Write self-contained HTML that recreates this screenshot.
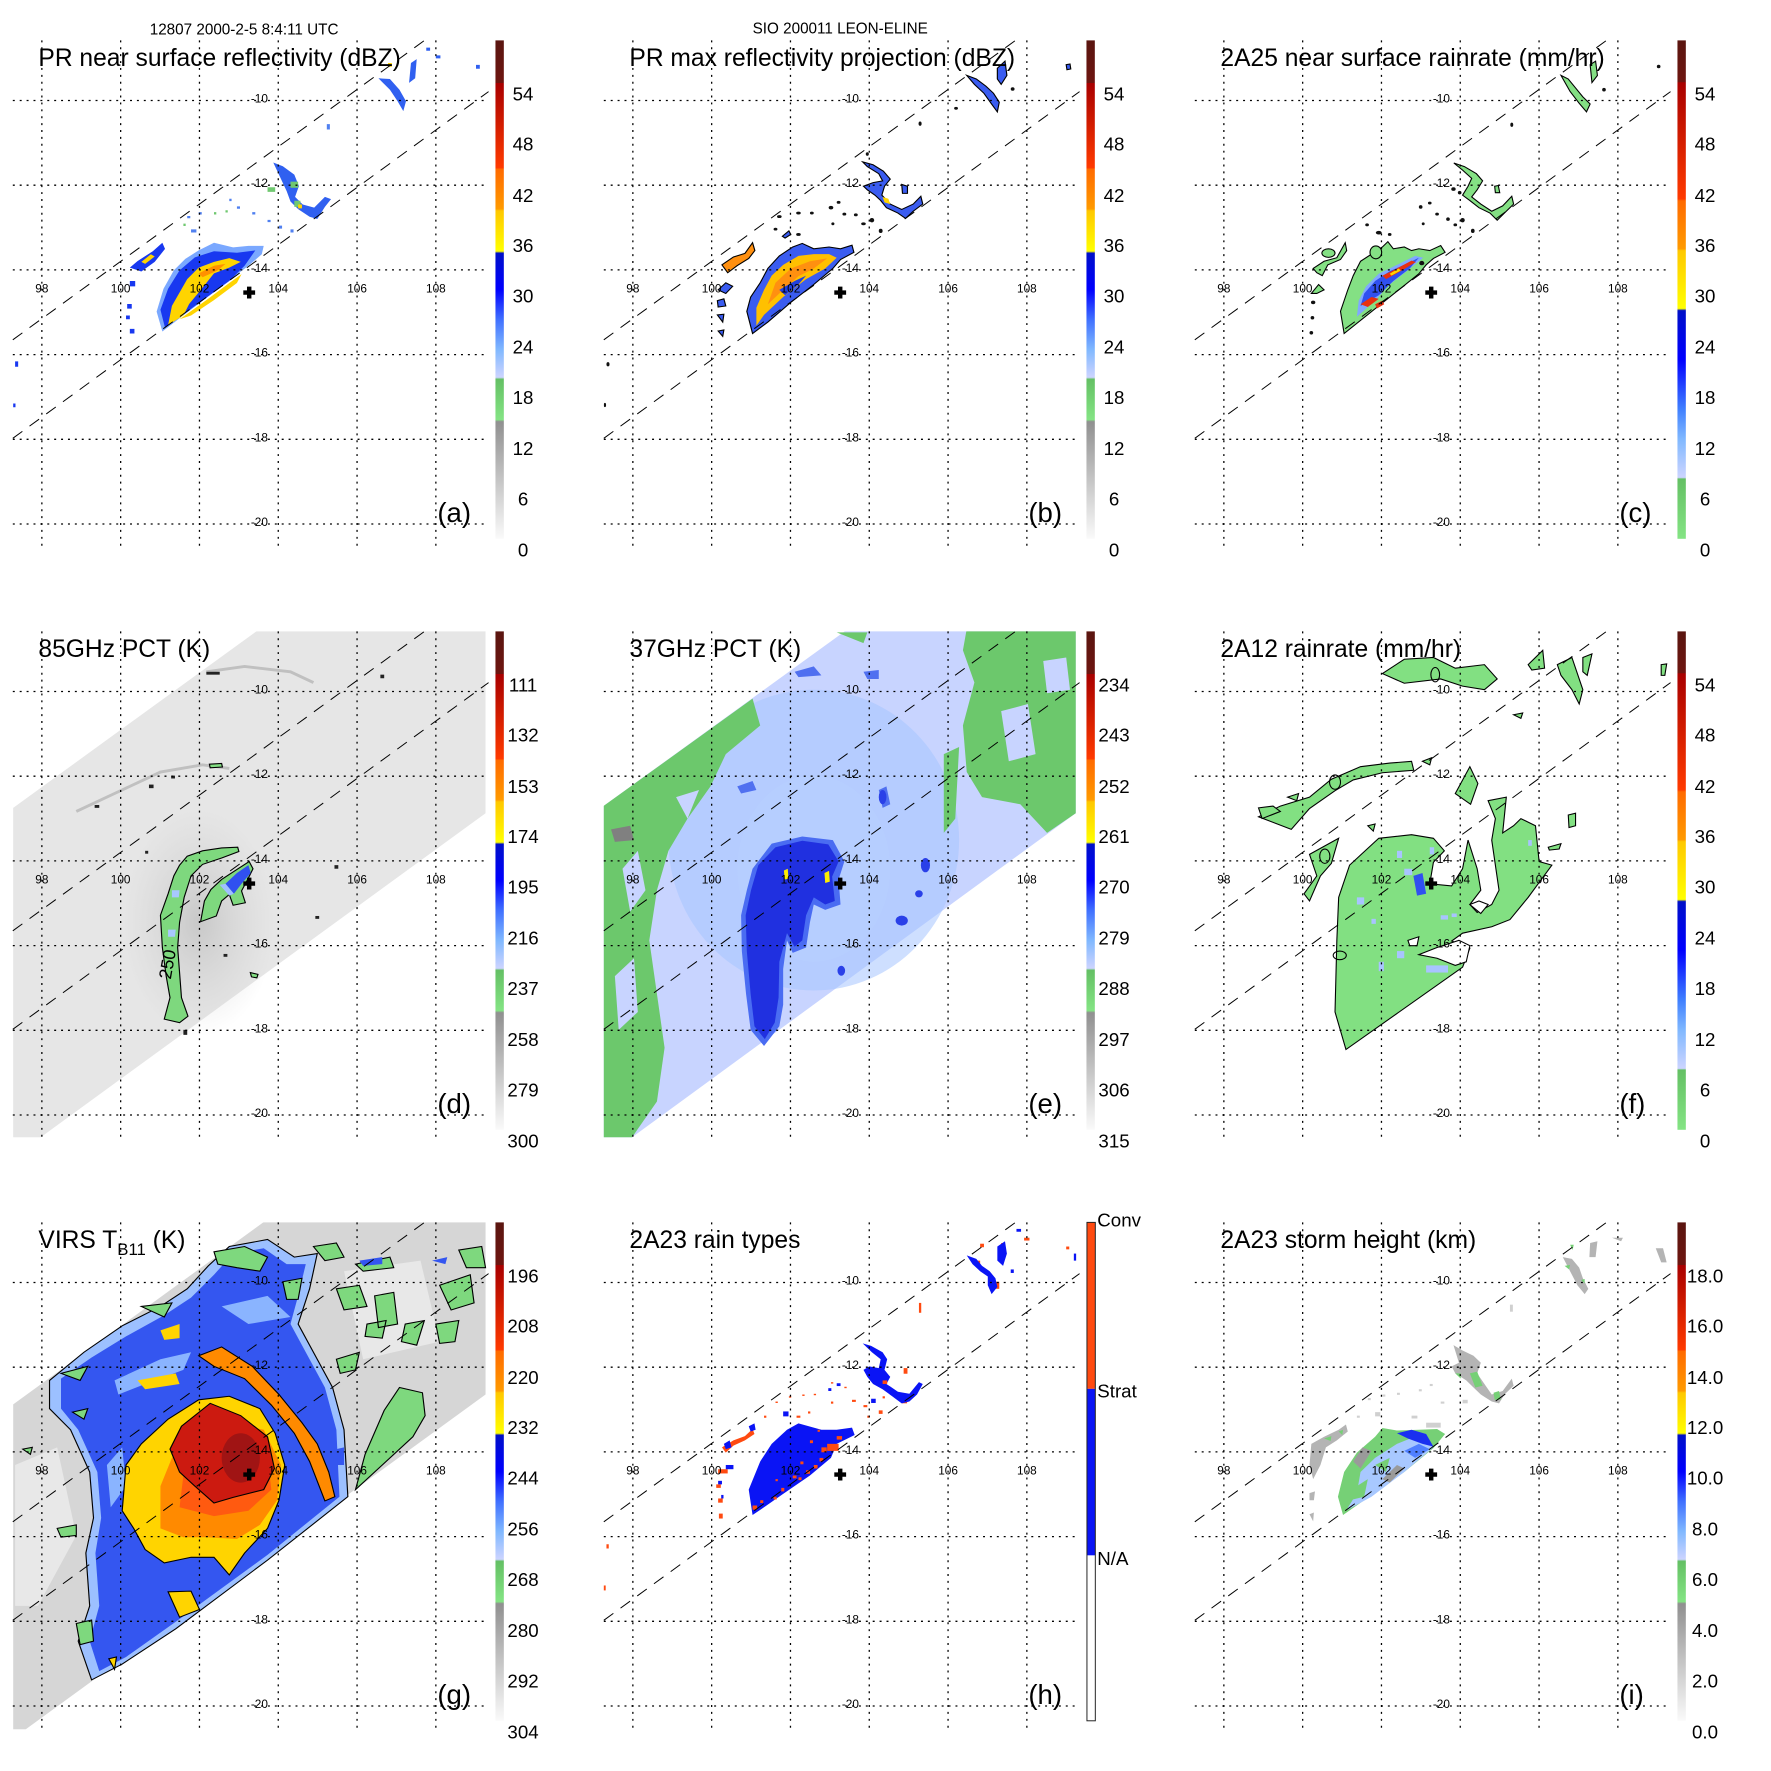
<!DOCTYPE html>
<html><head><meta charset="utf-8"><style>
html,body{margin:0;padding:0;background:#fff}
svg{display:block;font-family:"Liberation Sans",Arial,sans-serif}
.t{font-size:25px}
.cb{font-size:19px;text-anchor:middle}
.lo{font-size:12px;text-anchor:middle}
.la{font-size:12px;text-anchor:end}
.pl{font-size:28px}
.hd{font-size:15.5px}
.ol{stroke:#000;stroke-width:3}
</style></head><body>
<svg width="1771" height="1771" viewBox="0 0 1771 1771" xmlns="http://www.w3.org/2000/svg">
<defs>
<clipPath id="cp"><rect x="13" y="41" width="483" height="516"/></clipPath>
<linearGradient id="gA" x1="0" y1="0" x2="0" y2="1">
<stop offset="0" stop-color="#5a1510"/><stop offset="0.085" stop-color="#6e1510"/>
<stop offset="0.086" stop-color="#a80000"/><stop offset="0.256" stop-color="#ff3a00"/>
<stop offset="0.258" stop-color="#ff6a00"/><stop offset="0.338" stop-color="#ff9a00"/>
<stop offset="0.342" stop-color="#ffc800"/><stop offset="0.423" stop-color="#ffff00"/>
<stop offset="0.427" stop-color="#0010c8"/><stop offset="0.5" stop-color="#0000ff"/>
<stop offset="0.56" stop-color="#4070ff"/><stop offset="0.62" stop-color="#80b8ff"/><stop offset="0.676" stop-color="#ccd4ff"/>
<stop offset="0.68" stop-color="#64c064"/><stop offset="0.761" stop-color="#84e484"/>
<stop offset="0.765" stop-color="#909090"/><stop offset="1" stop-color="#fafafa"/>
</linearGradient>
<linearGradient id="gC" x1="0" y1="0" x2="0" y2="1">
<stop offset="0" stop-color="#5a1510"/><stop offset="0.083" stop-color="#6e1510"/>
<stop offset="0.085" stop-color="#a80000"/><stop offset="0.318" stop-color="#ff3a00"/>
<stop offset="0.322" stop-color="#ff6a00"/><stop offset="0.418" stop-color="#ff9a00"/>
<stop offset="0.422" stop-color="#ffc800"/><stop offset="0.538" stop-color="#ffff00"/>
<stop offset="0.542" stop-color="#0010c8"/><stop offset="0.64" stop-color="#0000ff"/>
<stop offset="0.74" stop-color="#4080ff"/><stop offset="0.8" stop-color="#80b8ff"/><stop offset="0.877" stop-color="#ccd4ff"/>
<stop offset="0.88" stop-color="#64c064"/><stop offset="1" stop-color="#84e484"/>
</linearGradient>
<radialGradient id="rg" cx="0.5" cy="0.5" r="0.5">
<stop offset="0" stop-color="#b4b4b4" stop-opacity="0.6"/><stop offset="1" stop-color="#c8c8c8" stop-opacity="0"/>
</radialGradient>
<g id="grid" fill="none">
<g stroke="#000" stroke-width="1.3" stroke-dasharray="2 5">
<path d="M42.5,41V557M122.5,41V557M202.5,41V557M282.5,41V557M362.5,41V557M442.5,41V557"/>
<path d="M13,102H496M13,188H496M13,274H496M13,360H496M13,446H496M13,532H496"/>
</g>
<path d="M13,345L431,41M13,445L496,93" stroke="#000" stroke-width="1" stroke-dasharray="12 9"/>
<path d="M247,297h12M253,291v12" stroke="#000" stroke-width="4.5"/>
</g>
</defs>
<g transform="scale(0.985)">

<text class="hd" x="152" y="35">12807 2000-2-5 8:4:11 UTC</text>
<text class="hd" x="853" y="34" text-anchor="middle">SIO 200011 LEON-ELINE</text>

<!-- ================= (a) ================= -->
<g transform="translate(0,0)">
<g clip-path="url(#cp)"><g transform="matrix(.3883 0 0 .3884 -0.2 -2.1)">
<path fill="#7aa8ff" d="M425,872 L410,820 L428,760 L455,712 L485,682 L520,660 L560,640 L610,652 L650,648 L690,648 L685,670 L650,700 Z"/>
<path fill="#1838f0" d="M432,862 L420,815 L440,760 L470,712 L510,678 L560,662 L620,666 L668,660 L640,700 L600,740 Z"/>
<path fill="#ffd400" d="M440,855 L450,805 L470,770 L490,735 L520,705 L560,690 L600,680 L630,690 L600,705 L560,720 L540,745 L520,770 L495,800 L480,830 Z"/>
<path fill="#ffd400" d="M470,840 L540,790 L600,745 L632,722 L620,745 L560,790 L500,830 Z"/>
<path fill="#ff9000" d="M520,720 L560,700 L590,695 L570,712 L530,730 Z"/>
<path fill="#1838f0" d="M340,705 L360,688 L400,662 L425,640 L432,656 L405,690 L370,715 Z"/>
<path fill="#ffd400" d="M370,690 L395,670 L405,676 L380,695 Z"/>
<path fill="#1838f0" d="M340,740h14v14h-14zM333,800h12v12h-12zM330,830h10v10h-10zM340,865h12v12h-12zM40,950h8v14h-8zM35,1060h6v10h-6z"/>
<path fill="#3060f0" d="M990,210 L1020,212 L1045,240 L1062,270 L1055,296 L1040,270 L1020,240 Z M1075,170 L1090,160 L1086,210 L1070,222 Z M1115,130h10v8h-10z M1140,150h12v8h-12z M1245,175h10v10h-10z"/>
<path fill="#3060f0" d="M715,430 L740,440 L770,462 L782,492 L772,520 L792,540 L822,548 L850,520 L866,526 L850,546 L830,578 L810,572 L780,552 L760,532 L750,505 Z"/>
<path fill="#70c870" d="M700,495h20v12h-20zM760,480h20v16h-20zM770,530h16v16h-16z"/>
<path fill="#ffd400" d="M780,540h10v10h-10zM1015,170h10v10h-10z"/>
<path fill="#5080f0" d="M620,545h8v6h-8zM660,560h8v6h-8zM700,580h8v6h-8zM730,595h8v8h-8zM760,605h8v8h-8zM600,525h6v6h-6zM490,570h8v6h-8zM520,560h8v6h-8zM500,605h14v8h-14zM855,330h8v14h-8z"/>
<path fill="#70c870" d="M560,560h6v6h-6zM590,555h6v6h-6zM480,590h6v6h-6z"/>
</g></g>
<use href="#grid"/>
<text class="t" x="39" y="67">PR near surface reflectivity (dBZ)</text>
<rect x="503" y="41" width="8.5" height="506" fill="url(#gA)"/>
<g class="cb"><text x="531" y="102">54</text><text x="531" y="153">48</text><text x="531" y="205">42</text><text x="531" y="256">36</text><text x="531" y="307">30</text><text x="531" y="359">24</text><text x="531" y="410">18</text><text x="531" y="462">12</text><text x="531" y="513">6</text><text x="531" y="565">0</text></g>
<g class="lo"><text x="42.5" y="297">98</text><text x="122.5" y="297">100</text><text x="202.5" y="297">102</text><text x="282.5" y="297">104</text><text x="362.5" y="297">106</text><text x="442.5" y="297">108</text></g>
<g class="la"><text x="272" y="104">-10</text><text x="272" y="190">-12</text><text x="272" y="276">-14</text><text x="272" y="362">-16</text><text x="272" y="448">-18</text><text x="272" y="534">-20</text></g>
<text class="pl" x="444" y="530">(a)</text>
</g>

<!-- ================= (b) ================= -->
<g transform="translate(600,0)">
<g clip-path="url(#cp)"><g transform="matrix(.3883 0 0 .3629 8.7 18.5)">
<path fill="#3a5cf0" class="ol" d="M400,882 L385,820 L395,780 L420,740 L440,700 L470,665 L505,640 L530,630 L560,645 L600,640 L630,645 L660,635 L665,655 L630,675 L610,700 L560,745 L500,795 L440,850 Z"/>
<path fill="#ffc000" d="M410,860 L410,810 L430,760 L450,720 L480,690 L520,665 L560,660 L600,660 L620,670 L590,700 L540,730 L480,780 L430,830 Z"/>
<path fill="#ff9010" d="M440,800 L460,740 L500,700 L550,680 L595,672 L560,700 L520,722 L480,760 Z"/>
<path fill="#2040e0" d="M470,760 L510,735 L540,720 L520,745 L485,775 Z"/>
<path fill="#ff9010" class="ol" d="M320,690 L350,668 L380,658 L400,628 L406,650 L390,672 L360,692 L335,712 Z"/>
<path fill="#3a5cf0" class="ol" d="M310,760 L330,740 L348,750 L330,770 Z M308,790 L325,785 L330,805 L310,808 Z M308,830 L325,828 L322,850 Z M310,875 L325,872 L322,890 Z"/>
<path fill="#3a5cf0" class="ol" d="M688,402 L715,410 L742,428 L760,450 L745,470 L738,495 L760,520 L790,535 L820,520 L840,498 L845,520 L820,540 L800,560 L780,545 L750,530 L735,510 L720,495 L700,480 L690,470 L715,460 L740,455 L730,435 L700,415 Z"/>
<path fill="#ffd400" d="M740,500 L755,505 L760,520 L745,515 Z"/>
<path fill="#3a5cf0" class="ol" d="M960,160 L985,170 L1010,190 L1030,210 L1045,235 L1040,262 L1025,240 L1005,210 L980,185 Z M1040,140 L1060,120 L1065,160 L1050,185 L1040,170 Z M790,465 L805,470 L805,490 L792,490 Z M1220,130 L1230,128 L1232,142 L1222,144 Z"/>
<g fill="#111"><ellipse cx="470" cy="555" rx="6" ry="4"/><ellipse cx="520" cy="545" rx="6" ry="4"/><ellipse cx="555" cy="545" rx="5" ry="4"/><ellipse cx="605" cy="530" rx="6" ry="5"/><ellipse cx="640" cy="548" rx="5" ry="4"/><ellipse cx="670" cy="550" rx="5" ry="4"/><ellipse cx="690" cy="575" rx="6" ry="4"/><ellipse cx="712" cy="565" rx="6" ry="6"/><ellipse cx="735" cy="595" rx="5" ry="6"/><ellipse cx="610" cy="575" rx="4" ry="4"/><ellipse cx="520" cy="605" rx="6" ry="4"/><ellipse cx="460" cy="590" rx="5" ry="4"/><ellipse cx="932" cy="252" rx="5" ry="4"/><ellipse cx="838" cy="295" rx="4" ry="6"/><ellipse cx="700" cy="380" rx="4" ry="5"/><ellipse cx="625" cy="515" rx="5" ry="4"/><ellipse cx="1080" cy="198" rx="5" ry="5"/><ellipse cx="22" cy="968" rx="4" ry="6"/><ellipse cx="14" cy="1082" rx="3" ry="6"/></g>
<path fill="#3a5cf0" class="ol" d="M478,610 L495,595 L500,605 L485,615 Z"/>
</g></g>
<use href="#grid"/>
<text class="t" x="39" y="67">PR max reflectivity projection (dBZ)</text>
<rect x="503" y="41" width="8.5" height="506" fill="url(#gA)"/>
<g class="cb"><text x="531" y="102">54</text><text x="531" y="153">48</text><text x="531" y="205">42</text><text x="531" y="256">36</text><text x="531" y="307">30</text><text x="531" y="359">24</text><text x="531" y="410">18</text><text x="531" y="462">12</text><text x="531" y="513">6</text><text x="531" y="565">0</text></g>
<g class="lo"><text x="42.5" y="297">98</text><text x="122.5" y="297">100</text><text x="202.5" y="297">102</text><text x="282.5" y="297">104</text><text x="362.5" y="297">106</text><text x="442.5" y="297">108</text></g>
<g class="la"><text x="272" y="104">-10</text><text x="272" y="190">-12</text><text x="272" y="276">-14</text><text x="272" y="362">-16</text><text x="272" y="448">-18</text><text x="272" y="534">-20</text></g>
<text class="pl" x="444" y="530">(b)</text>
</g>

<!-- ================= (c) ================= -->
<g transform="translate(1200,0)">
<g clip-path="url(#cp)"><g transform="matrix(.370 0 0 .3629 18.45 18.5)">
<path fill="#84e084" class="ol" d="M395,882 L385,820 L395,790 L405,760 L420,720 L440,680 L470,660 L500,640 L515,625 L530,645 L560,640 L580,650 L600,645 L630,650 L660,636 L672,655 L640,672 L620,690 L600,715 Z"/>
<path fill="#80a8ff" d="M430,835 L435,790 L455,750 L490,715 L540,690 L590,665 L612,670 L570,705 L520,745 L480,790 Z"/>
<path fill="#3050f0" d="M440,805 L450,770 L480,735 L520,708 L570,685 L600,670 L575,700 L530,735 L490,775 Z"/>
<path fill="#e83010" d="M500,720 L540,700 L580,678 L592,682 L550,708 L510,730 Z M440,800 L470,780 L490,785 L460,808 Z M480,800 L500,790 L505,800 L485,812 Z"/>
<path fill="#ffd400" d="M520,715 L545,700 L550,706 L525,720 Z"/>
<ellipse cx="482" cy="655" rx="16" ry="18" fill="#84e084" class="ol"/>
<ellipse cx="352" cy="657" rx="18" ry="12" fill="#84e084" class="ol"/>
<path fill="#84e084" class="ol" d="M310,700 L340,680 L375,670 L398,628 L402,650 L385,675 L350,690 L335,720 L320,712 Z M305,770 L325,745 L340,760 L320,770 Z"/>
<path fill="#84e084" class="ol" d="M696,405 L725,415 L758,435 L775,455 L760,480 L745,500 L770,520 L800,540 L830,525 L855,498 L860,520 L835,545 L815,565 L795,545 L765,530 L740,510 L720,495 L735,470 L745,448 L720,425 Z M808,470 L818,468 L822,488 L810,488 Z"/>
<path fill="#84e084" class="ol" d="M990,160 L1010,170 L1030,195 L1050,220 L1070,240 L1060,262 L1040,238 L1015,205 Z M1070,130 L1085,120 L1090,160 L1075,180 Z"/>
<g fill="#111"><ellipse cx="310" cy="795" rx="6" ry="5"/><ellipse cx="308" cy="838" rx="5" ry="5"/><ellipse cx="305" cy="880" rx="5" ry="5"/><ellipse cx="490" cy="600" rx="8" ry="5"/><ellipse cx="520" cy="605" rx="5" ry="4"/><ellipse cx="605" cy="528" rx="5" ry="5"/><ellipse cx="630" cy="517" rx="5" ry="4"/><ellipse cx="650" cy="548" rx="5" ry="4"/><ellipse cx="680" cy="562" rx="5" ry="5"/><ellipse cx="720" cy="565" rx="6" ry="6"/><ellipse cx="748" cy="595" rx="5" ry="6"/><ellipse cx="700" cy="578" rx="5" ry="4"/><ellipse cx="612" cy="575" rx="4" ry="4"/><ellipse cx="695" cy="478" rx="6" ry="5"/><ellipse cx="712" cy="488" rx="5" ry="5"/><ellipse cx="855" cy="298" rx="4" ry="6"/><ellipse cx="1108" cy="200" rx="5" ry="5"/><ellipse cx="608" cy="685" rx="7" ry="6"/><ellipse cx="458" cy="578" rx="5" ry="4"/><ellipse cx="1258" cy="135" rx="5" ry="5"/></g>
</g></g>
<use href="#grid"/>
<text class="t" x="39" y="67">2A25 near surface rainrate (mm/hr)</text>
<rect x="503" y="41" width="8.5" height="506" fill="url(#gC)"/>
<g class="cb"><text x="531" y="102">54</text><text x="531" y="153">48</text><text x="531" y="205">42</text><text x="531" y="256">36</text><text x="531" y="307">30</text><text x="531" y="359">24</text><text x="531" y="410">18</text><text x="531" y="462">12</text><text x="531" y="513">6</text><text x="531" y="565">0</text></g>
<g class="lo"><text x="42.5" y="297">98</text><text x="122.5" y="297">100</text><text x="202.5" y="297">102</text><text x="282.5" y="297">104</text><text x="362.5" y="297">106</text><text x="442.5" y="297">108</text></g>
<g class="la"><text x="272" y="104">-10</text><text x="272" y="190">-12</text><text x="272" y="276">-14</text><text x="272" y="362">-16</text><text x="272" y="448">-18</text><text x="272" y="534">-20</text></g>
<text class="pl" x="444" y="530">(c)</text>
</g>

<!-- ================= (d) ================= -->
<g transform="translate(0,600)">
<g clip-path="url(#cp)"><g transform="matrix(.3883 0 0 .3635 -0.2 27.5)">
<path fill="#e6e6e6" d="M35,530 L680,30 L1270,30 L1270,545 L107,1450 L35,1450 Z"/>
<ellipse cx="520" cy="850" rx="200" ry="320" fill="url(#rg)"/>
<path fill="none" stroke="#c0c0c0" stroke-width="8" d="M200,540 L300,490 L420,430 L530,410 L600,420 M540,150 L640,135 L760,150 L820,180"/>
<g fill="#222"><rect x="540" y="150" width="35" height="8"/><rect x="248" y="522" width="12" height="8"/><rect x="390" y="465" width="12" height="10"/><rect x="448" y="440" width="10" height="8"/><rect x="380" y="650" width="8" height="8"/><rect x="875" y="690" width="10" height="10"/><rect x="825" y="832" width="10" height="8"/><rect x="585" y="938" width="10" height="8"/><rect x="995" y="158" width="10" height="10"/><rect x="480" y="1150" width="10" height="14"/></g>
<path fill="#84e084" class="ol" d="M548,408 L580,406 L582,416 L550,418 Z M655,990 L675,995 L672,1005 L658,1002 Z"/>
<path fill="#7ed87e" class="ol" d="M430,1120 L445,1060 L435,1000 L425,920 L420,830 L440,770 L455,720 L470,690 L490,665 L530,650 L580,642 L622,640 L625,652 L580,670 L530,688 L500,720 L482,780 L470,850 L465,920 L470,990 L475,1060 L492,1112 L470,1130 Z"/>
<path fill="#a8c8ff" d="M450,760 L470,760 L468,780 L450,780 Z M440,870 L460,870 L458,890 L440,890 Z"/>
<path fill="#7ed87e" class="ol" d="M525,848 L535,790 L552,758 L580,730 L620,702 L652,680 L662,700 L648,730 L632,762 L642,795 L610,802 L600,772 L580,790 L566,832 Z"/>
<path fill="#3050f0" d="M590,742 L620,712 L650,690 L656,712 L632,742 L612,770 Z"/>
<path fill="#a0c0ff" d="M575,745 L590,742 L612,770 L600,775 Z"/>
</g></g>
<use href="#grid"/>
<text x="176" y="380" font-size="18" transform="rotate(-80 176 380)" text-anchor="middle">250</text>
<text class="t" x="39" y="67">85GHz PCT (K)</text>
<rect x="503" y="41" width="8.5" height="506" fill="url(#gA)"/>
<g class="cb"><text x="531" y="102">111</text><text x="531" y="153">132</text><text x="531" y="205">153</text><text x="531" y="256">174</text><text x="531" y="307">195</text><text x="531" y="359">216</text><text x="531" y="410">237</text><text x="531" y="462">258</text><text x="531" y="513">279</text><text x="531" y="565">300</text></g>
<g class="lo"><text x="42.5" y="297">98</text><text x="122.5" y="297">100</text><text x="202.5" y="297">102</text><text x="282.5" y="297">104</text><text x="362.5" y="297">106</text><text x="442.5" y="297">108</text></g>
<g class="la"><text x="272" y="104">-10</text><text x="272" y="190">-12</text><text x="272" y="276">-14</text><text x="272" y="362">-16</text><text x="272" y="448">-18</text><text x="272" y="534">-20</text></g>
<text class="pl" x="444" y="530">(d)</text>
</g>

<!-- ================= (e) ================= -->
<g transform="translate(600,600)">
<g clip-path="url(#cp)"><g transform="matrix(.3883 0 0 .3635 8.7 27.5)">
<path fill="#c8d4ff" d="M10,525 L650,30 L1245,30 L1245,545 L85,1450 L10,1450 Z"/>
<ellipse cx="560" cy="620" rx="380" ry="420" fill="#a6c4ff" opacity="0.55"/>
<ellipse cx="560" cy="700" rx="200" ry="260" fill="#b8d0ff" opacity="0.5"/>
<path fill="#6cc86c" d="M10,525 L400,225 L420,300 L330,380 L290,470 L230,560 L180,650 L150,760 L130,900 L150,1050 L170,1200 L150,1350 L85,1450 L10,1450 Z"/>
<path fill="#c8d4ff" d="M60,700 L100,650 L120,760 L80,820 Z M40,1000 L90,950 L100,1100 L50,1150 Z M200,500 L260,480 L230,560 Z"/>
<path fill="#6cc86c" d="M960,30 L1245,30 L1245,545 L1170,600 L1100,520 L1000,500 L960,430 L950,300 L980,180 L950,90 Z"/>
<path fill="#c8d4ff" d="M1050,260 L1120,240 L1140,380 L1070,400 Z M1160,120 L1220,110 L1230,200 L1170,210 Z"/>
<path fill="#6cc86c" d="M900,380 L940,360 L930,560 L900,600 Z M620,40 L700,40 L690,70 Z"/>
<path fill="#808080" d="M30,590 L80,580 L90,620 L40,625 Z"/>
<path fill="#5070f0" d="M510,150 L560,135 L580,160 L520,165 Z M690,150 L730,145 L730,170 L700,170 Z M730,480 L750,470 L760,520 L740,530 Z M360,470 L400,455 L410,480 L370,490 Z"/>
<path fill="#4a6cf2" d="M400,700 L450,630 L530,610 L610,620 L640,680 L625,730 L630,800 L590,815 L560,800 L550,850 L540,920 L505,935 L490,900 L480,980 L480,1080 L470,1140 L430,1195 L395,1150 L383,1050 L372,930 L370,830 L385,760 Z"/>
<path fill="#2030e0" d="M415,690 L460,640 L530,622 L598,632 L625,680 L608,722 L615,790 L590,800 L560,780 L540,830 L530,900 L510,918 L490,880 L470,960 L468,1060 L458,1130 L432,1176 L405,1140 L395,1050 L385,930 L382,830 L396,760 Z"/>
<path fill="#ffee00" d="M482,705 L492,700 L494,728 L484,730 Z M588,712 L600,706 L602,736 L590,740 Z"/>
<g fill="#2a40e8"><ellipse cx="852" cy="690" rx="12" ry="20"/><ellipse cx="790" cy="845" rx="16" ry="14"/><ellipse cx="632" cy="985" rx="10" ry="14"/><ellipse cx="835" cy="770" rx="10" ry="10"/><ellipse cx="740" cy="500" rx="10" ry="20"/></g>
</g></g>
<use href="#grid"/>
<text class="t" x="39" y="67">37GHz PCT (K)</text>
<rect x="503" y="41" width="8.5" height="506" fill="url(#gA)"/>
<g class="cb"><text x="531" y="102">234</text><text x="531" y="153">243</text><text x="531" y="205">252</text><text x="531" y="256">261</text><text x="531" y="307">270</text><text x="531" y="359">279</text><text x="531" y="410">288</text><text x="531" y="462">297</text><text x="531" y="513">306</text><text x="531" y="565">315</text></g>
<g class="lo"><text x="42.5" y="297">98</text><text x="122.5" y="297">100</text><text x="202.5" y="297">102</text><text x="282.5" y="297">104</text><text x="362.5" y="297">106</text><text x="442.5" y="297">108</text></g>
<g class="la"><text x="272" y="104">-10</text><text x="272" y="190">-12</text><text x="272" y="276">-14</text><text x="272" y="362">-16</text><text x="272" y="448">-18</text><text x="272" y="534">-20</text></g>
<text class="pl" x="444" y="530">(e)</text>
</g>

<!-- ================= (f) ================= -->
<g transform="translate(1200,600)">
<g clip-path="url(#cp)"><g transform="matrix(.370 0 0 .3635 18.45 27.5)">
<path fill="#82e082" class="ol" d="M400,1205 L370,1100 L375,900 L380,780 L410,690 L490,615 L580,605 L640,615 L670,650 L640,682 L630,742 L690,748 L720,700 L735,620 L760,700 L770,760 L740,800 L760,822 L800,800 L820,760 L800,620 L810,560 L790,510 L840,500 L830,600 L860,580 L880,560 L920,580 L930,680 L965,690 L900,780 L850,842 L800,862 L720,880 L690,902 L740,922 L720,975 Z"/>
<path fill="#fff" class="ol" d="M600,940 L650,920 L710,900 L740,915 L730,960 L700,970 L650,950 Z M570,900 L600,890 L595,915 L575,915 Z"/>
<path fill="#fff" class="ol" d="M740,800 L765,790 L790,800 L770,825 Z"/>
<path fill="#3050f0" d="M585,720 L610,712 L620,770 L595,775 Z"/>
<g fill="#a8c4ff"><rect x="430" y="780" width="20" height="20"/><rect x="560" y="700" width="22" height="18"/><rect x="540" y="650" width="14" height="20"/><rect x="630" y="640" width="12" height="20"/><rect x="490" y="960" width="14" height="26"/><rect x="540" y="930" width="20" height="20"/><rect x="620" y="970" width="60" height="20"/><rect x="660" y="830" width="20" height="12"/><rect x="470" y="840" width="12" height="14"/><rect x="900" y="620" width="10" height="16"/><rect x="690" y="825" width="14" height="10"/></g>
<path fill="#82e082" class="ol" d="M160,555 L220,525 L300,500 L360,450 L440,415 L520,405 L580,400 L586,425 L500,432 L420,452 L370,482 L300,532 L250,590 Z"/>
<path fill="#82e082" class="ol" d="M500,155 L560,115 L640,110 L700,140 L780,130 L815,170 L780,200 L720,190 L660,170 L560,182 Z"/>
<path fill="#82e082" class="ol" d="M900,130 L940,90 L945,140 L910,145 Z M980,130 L1020,110 L1050,200 L1040,240 L1020,200 L990,160 Z M1050,110 L1075,100 L1062,160 L1050,150 Z M1265,130 L1280,128 L1275,160 L1265,160 Z"/>
<path fill="#82e082" class="ol" d="M300,660 L380,615 L360,685 L330,720 L300,790 L285,770 L320,720 Z M700,490 L740,415 L762,462 L742,520 Z M955,640 L990,630 L985,645 L958,648 Z M1010,550 L1030,545 L1030,580 L1012,585 Z M160,530 L200,525 L220,540 L170,560 Z M240,500 L270,490 L265,510 Z M860,270 L885,265 L880,280 Z M460,580 L480,575 L475,595 Z M610,400 L635,390 L630,410 Z"/>
<ellipse cx="370" cy="458" rx="15" ry="20" fill="none" class="ol"/>
<ellipse cx="342" cy="665" rx="14" ry="20" fill="none" class="ol"/>
<ellipse cx="383" cy="942" rx="18" ry="12" fill="none" class="ol"/>
<ellipse cx="645" cy="158" rx="12" ry="20" fill="none" class="ol"/>
</g></g>
<use href="#grid"/>
<text class="t" x="39" y="67">2A12 rainrate (mm/hr)</text>
<rect x="503" y="41" width="8.5" height="506" fill="url(#gC)"/>
<g class="cb"><text x="531" y="102">54</text><text x="531" y="153">48</text><text x="531" y="205">42</text><text x="531" y="256">36</text><text x="531" y="307">30</text><text x="531" y="359">24</text><text x="531" y="410">18</text><text x="531" y="462">12</text><text x="531" y="513">6</text><text x="531" y="565">0</text></g>
<g class="lo"><text x="42.5" y="297">98</text><text x="122.5" y="297">100</text><text x="202.5" y="297">102</text><text x="282.5" y="297">104</text><text x="362.5" y="297">106</text><text x="442.5" y="297">108</text></g>
<g class="la"><text x="272" y="104">-10</text><text x="272" y="190">-12</text><text x="272" y="276">-14</text><text x="272" y="362">-16</text><text x="272" y="448">-18</text><text x="272" y="534">-20</text></g>
<text class="pl" x="444" y="530">(f)</text>
</g>

<!-- ================= (g) ================= -->
<g transform="translate(0,1200)">
<g clip-path="url(#cp)"><g transform="matrix(.3883 0 0 .3577 -0.2 36.9)">
<path fill="#d6d6d6" d="M35,528 L697,5 L1270,5 L1270,500 L68,1450 L35,1450 Z"/>
<path fill="#e8e8e8" d="M900,150 L1100,120 L1150,350 L950,400 Z M40,700 L150,650 L200,900 L100,1100 L40,1100 Z"/>
<path fill="#9cc0ff" class="ol" d="M130,460 L220,380 L320,305 L420,250 L490,200 L545,135 L600,80 L700,60 L770,110 L830,100 L810,200 L780,300 L820,380 L870,480 L900,600 L910,790 L700,970 L460,1165 L320,1265 L240,1310 L205,1200 L235,1100 L225,950 L245,850 L235,720 L185,600 L130,540 Z"/>
<path fill="#3456f0" d="M160,455 L240,395 L330,335 L430,275 L500,225 L560,160 L610,100 L690,85 L750,130 L800,130 L780,220 L760,300 L800,380 L850,480 L880,600 L888,790 L700,955 L460,1145 L330,1245 L260,1285 L235,1200 L260,1100 L250,950 L265,850 L255,720 L205,600 L160,540 Z"/>
<path fill="#8ab4ff" d="M300,460 L420,400 L500,380 L480,430 L380,470 L310,500 Z M580,250 L700,220 L760,280 L650,300 Z M280,700 L320,650 L330,760 L290,820 Z"/>
<path fill="#7ed87e" class="ol" d="M560,95 L640,80 L700,110 L680,150 L620,140 L570,130 Z M370,250 L450,240 L430,280 Z M160,440 L230,420 L210,460 Z"/>
<path fill="#ff8a00" class="ol" d="M520,390 L580,365 L660,420 L730,500 L790,580 L830,640 L860,720 L876,790 L850,802 L810,690 L770,610 L710,530 L640,455 L560,420 Z"/>
<path fill="#ffd400" d="M360,460 L460,440 L470,470 L380,485 Z M420,318 L470,300 L470,340 L430,345 Z"/>
<path fill="#ffd400" class="ol" d="M320,830 L330,700 L370,640 L440,570 L520,515 L600,505 L680,540 L720,610 L745,700 L730,800 L700,880 L640,950 L600,1012 L560,962 L500,962 L430,978 L380,940 L350,880 Z"/>
<path fill="#ff8a00" d="M420,880 L420,760 L450,680 L520,600 L600,580 L690,600 L735,700 L725,800 L680,870 L620,910 L540,905 L480,905 Z"/>
<path fill="#ff5a10" d="M470,820 L480,730 L540,660 L620,640 L700,680 L710,770 L650,830 L560,845 Z"/>
<path fill="#cc1a10" class="ol" d="M445,655 L475,590 L550,525 L630,560 L700,620 L718,710 L690,770 L610,792 L560,808 L510,760 L470,720 Z"/>
<ellipse cx="630" cy="680" rx="50" ry="70" fill="#a01414"/>
<path fill="#ffd400" class="ol" d="M440,1060 L500,1058 L522,1110 L470,1132 Z M285,1250 L305,1245 L300,1280 Z"/>
<path fill="#7ed87e" class="ol" d="M930,770 L955,670 L1005,545 L1045,480 L1105,495 L1112,560 L1080,620 L1000,700 Z"/>
<path fill="#7ed87e" class="ol" d="M820,80 L880,70 L900,110 L850,120 Z M930,130 L1020,110 L1030,140 L950,150 Z M880,200 L940,190 L960,250 L900,260 Z M980,220 L1030,210 L1040,300 L990,310 Z M960,300 L1010,290 L1000,340 L955,335 Z M1150,190 L1230,160 L1240,240 L1180,260 Z M1200,90 L1260,80 L1270,140 L1220,140 Z M1060,300 L1110,290 L1090,360 L1050,350 Z M1140,300 L1200,290 L1190,350 L1150,355 Z M880,400 L940,380 L930,430 L890,440 Z M740,180 L790,170 L780,230 L750,230 Z"/>
<path fill="#3456f0" d="M940,120 L1000,110 L1000,130 L950,135 Z M1130,120 L1170,110 L1165,130 Z M860,660 L900,650 L900,700 L870,700 Z"/>
<path fill="#7ed87e" class="ol" d="M200,1150 L240,1140 L245,1200 L210,1210 Z M150,880 L200,870 L200,900 L160,905 Z M60,655 L85,650 L80,670 Z M190,550 L230,540 L220,570 Z"/>
</g></g>
<use href="#grid"/>
<text class="t" x="39" y="67">VIRS T<tspan font-size="17" dy="7">B11</tspan><tspan dy="-7"> (K)</tspan></text>
<rect x="503" y="41" width="8.5" height="506" fill="url(#gA)"/>
<g class="cb"><text x="531" y="102">196</text><text x="531" y="153">208</text><text x="531" y="205">220</text><text x="531" y="256">232</text><text x="531" y="307">244</text><text x="531" y="359">256</text><text x="531" y="410">268</text><text x="531" y="462">280</text><text x="531" y="513">292</text><text x="531" y="565">304</text></g>
<g class="lo"><text x="42.5" y="297">98</text><text x="122.5" y="297">100</text><text x="202.5" y="297">102</text><text x="282.5" y="297">104</text><text x="362.5" y="297">106</text><text x="442.5" y="297">108</text></g>
<g class="la"><text x="272" y="104">-10</text><text x="272" y="190">-12</text><text x="272" y="276">-14</text><text x="272" y="362">-16</text><text x="272" y="448">-18</text><text x="272" y="534">-20</text></g>
<text class="pl" x="444" y="530">(g)</text>
</g>

<!-- ================= (h) ================= -->
<g transform="translate(600,1200)">
<g clip-path="url(#cp)"><g transform="matrix(.3883 0 0 .3577 8.7 36.9)">
<path fill="#0a14f5" d="M400,842 L390,770 L420,690 L450,640 L490,600 L520,582 L580,600 L620,600 L660,594 L667,615 L620,640 L605,680 L550,730 L480,782 L430,820 Z"/>
<g fill="#ff4a10"><rect x="400" y="815" width="12" height="12"/><rect x="420" y="800" width="8" height="8"/><rect x="455" y="790" width="8" height="8"/><rect x="475" y="765" width="8" height="10"/><rect x="505" y="730" width="10" height="8"/><rect x="520" y="735" width="8" height="8"/><rect x="540" y="715" width="10" height="10"/><rect x="560" y="700" width="10" height="10"/><rect x="575" y="680" width="10" height="10"/><rect x="595" y="640" width="30" height="20"/><rect x="580" y="650" width="14" height="14"/><rect x="620" y="618" width="14" height="10"/><rect x="460" y="740" width="6" height="6"/><rect x="525" y="690" width="8" height="8"/><rect x="550" y="630" width="8" height="8"/><rect x="570" y="600" width="6" height="6"/></g>
<path fill="#ff4a10" d="M320,650 L350,630 L380,618 L400,598 L405,612 L380,630 L350,645 L330,665 Z"/>
<path fill="#0a14f5" d="M325,640 L340,630 L345,650 L330,655 Z M390,590 L405,582 L408,600 L395,605 Z"/>
<g fill="#ff4a10"><rect x="310" y="712" width="25" height="12"/><rect x="305" y="755" width="12" height="10"/><rect x="310" y="795" width="12" height="12"/><rect x="312" y="838" width="10" height="14"/><rect x="18" y="925" width="6" height="12"/><rect x="10" y="1042" width="6" height="14"/><rect x="835" y="240" width="6" height="28"/><rect x="795" y="425" width="10" height="16"/><rect x="790" y="515" width="14" height="10"/><rect x="1110" y="55" width="14" height="8"/><rect x="1220" y="80" width="8" height="8"/><rect x="1050" y="70" width="10" height="40"/><rect x="1035" y="180" width="10" height="20"/><rect x="985" y="120" width="10" height="10"/><rect x="995" y="72" width="10" height="10"/></g>
<g fill="#0a14f5"><rect x="330" y="700" width="20" height="12"/><rect x="310" y="745" width="10" height="10"/><rect x="318" y="785" width="6" height="10"/><rect x="480" y="548" width="14" height="14"/><rect x="598" y="482" width="8" height="8"/><rect x="620" y="468" width="10" height="8"/><rect x="710" y="512" width="12" height="12"/><rect x="1090" y="30" width="12" height="8"/><rect x="1240" y="100" width="6" height="20"/><rect x="1075" y="145" width="8" height="10"/></g>
<path fill="#0a14f5" d="M688,355 L710,362 L740,380 L752,400 L745,430 L760,450 L750,470 L780,492 L810,498 L835,465 L845,470 L830,500 L810,520 L790,525 L765,505 L740,485 L715,470 L700,450 L690,430 L705,420 L730,425 L735,400 L712,380 Z"/>
<path fill="#0a14f5" d="M960,105 L985,115 L1000,135 L1020,150 L1035,170 L1040,195 L1025,215 L1015,190 L1015,165 L995,150 L975,130 Z M1040,80 L1060,65 L1065,100 L1055,135 L1040,120 Z"/>
<g fill="#ff4a10"><rect x="460" y="520" width="6" height="4"/><rect x="495" y="505" width="6" height="4"/><rect x="530" y="500" width="6" height="4"/><rect x="560" y="498" width="6" height="4"/><rect x="605" y="465" width="6" height="4"/><rect x="640" y="478" width="6" height="4"/><rect x="660" y="515" width="10" height="6"/><rect x="690" y="530" width="10" height="6"/><rect x="730" y="545" width="10" height="10"/><rect x="700" y="560" width="6" height="6"/><rect x="605" y="520" width="6" height="6"/><rect x="430" y="560" width="6" height="6"/><rect x="515" y="560" width="10" height="6"/><rect x="545" y="548" width="6" height="6"/><rect x="740" y="460" width="12" height="10"/><rect x="740" y="505" width="6" height="6"/></g>
</g></g>
<use href="#grid"/>
<text class="t" x="39" y="67">2A23 rain types</text>
<rect x="503.5" y="41" width="8.5" height="169" fill="#ff4a10"/>
<rect x="503.5" y="210" width="8.5" height="169" fill="#0a14f5"/>
<rect x="503.5" y="41" width="8.5" height="506" fill="none" stroke="#222" stroke-width="1"/>
<text x="514" y="45" font-size="19">Conv</text>
<text x="514" y="219" font-size="19">Strat</text>
<text x="514" y="389" font-size="19">N/A</text>
<g class="lo"><text x="42.5" y="297">98</text><text x="122.5" y="297">100</text><text x="202.5" y="297">102</text><text x="282.5" y="297">104</text><text x="362.5" y="297">106</text><text x="442.5" y="297">108</text></g>
<g class="la"><text x="272" y="104">-10</text><text x="272" y="190">-12</text><text x="272" y="276">-14</text><text x="272" y="362">-16</text><text x="272" y="448">-18</text><text x="272" y="534">-20</text></g>
<text class="pl" x="444" y="530">(h)</text>
</g>

<!-- ================= (i) ================= -->
<g transform="translate(1200,1200)">
<g clip-path="url(#cp)"><g transform="matrix(.370 0 0 .3577 18.45 36.9)">
<path fill="#76d076" d="M392,842 L378,790 L395,720 L430,665 L480,620 L500,595 L540,602 L600,600 L650,598 L672,612 L640,652 L560,720 L450,800 Z"/>
<path fill="#a8c8ff" d="M400,830 L430,780 L440,720 L480,680 L540,640 L600,615 L640,650 L560,720 L470,790 Z"/>
<path fill="#76d076" d="M410,800 L430,760 L460,740 L450,790 Z M480,700 L520,680 L510,720 Z"/>
<path fill="#9a9a9a" d="M420,690 L445,650 L470,660 L440,710 Z M500,740 L540,700 L560,710 L520,750 Z"/>
<path fill="#1a30f0" d="M540,610 L580,600 L620,612 L640,648 L610,640 L570,625 Z"/>
<path fill="#5080ff" d="M560,660 L600,640 L630,655 L590,680 Z"/>
<path fill="#b4b4b4" d="M305,640 L340,620 L380,600 L400,585 L405,605 L375,630 L345,650 L330,700 L310,740 L300,700 Z M300,780 L315,775 L312,800 L300,800 Z M300,840 L312,835 L310,860 Z"/>
<path fill="#76d076" d="M340,625 L360,618 L358,632 Z M380,605 L392,600 L390,615 Z"/>
<path fill="#b4b4b4" d="M695,360 L720,375 L750,390 L770,410 L760,440 L780,470 L800,500 L830,490 L855,455 L860,475 L835,500 L820,525 L800,520 L770,500 L750,480 L730,460 L700,440 L690,420 L710,410 Z"/>
<path fill="#76d076" d="M740,440 L760,435 L775,475 L755,480 Z M805,495 L820,490 L825,515 L808,515 Z M700,440 L715,440 L715,455 Z"/>
<path fill="#b4b4b4" d="M995,110 L1020,115 L1040,140 L1050,170 L1065,200 L1055,215 L1035,190 L1015,150 Z M1070,70 L1090,65 L1085,110 L1068,110 Z M1250,85 L1270,85 L1280,125 L1265,125 Z M1130,55 L1160,55 L1155,65 Z"/>
<path fill="#76d076" d="M1000,135 L1015,132 L1012,145 Z M1015,75 L1025,75 L1022,90 Z M1045,175 L1055,172 L1055,185 Z"/>
<g fill="#d0d0d0"><rect x="460" y="510" width="8" height="6"/><rect x="500" y="500" width="8" height="6"/><rect x="540" y="495" width="8" height="6"/><rect x="600" y="485" width="8" height="6"/><rect x="630" y="470" width="8" height="6"/><rect x="660" y="520" width="10" height="6"/><rect x="720" y="515" width="14" height="10"/><rect x="480" y="550" width="14" height="12"/><rect x="430" y="560" width="8" height="6"/><rect x="850" y="245" width="8" height="20"/><rect x="620" y="580" width="40" height="14"/><rect x="580" y="560" width="16" height="8"/></g>
</g></g>
<use href="#grid"/>
<text class="t" x="39" y="67">2A23 storm height (km)</text>
<rect x="503" y="41" width="8.5" height="506" fill="url(#gA)"/>
<g class="cb"><text x="531" y="102">18.0</text><text x="531" y="153">16.0</text><text x="531" y="205">14.0</text><text x="531" y="256">12.0</text><text x="531" y="307">10.0</text><text x="531" y="359">8.0</text><text x="531" y="410">6.0</text><text x="531" y="462">4.0</text><text x="531" y="513">2.0</text><text x="531" y="565">0.0</text></g>
<g class="lo"><text x="42.5" y="297">98</text><text x="122.5" y="297">100</text><text x="202.5" y="297">102</text><text x="282.5" y="297">104</text><text x="362.5" y="297">106</text><text x="442.5" y="297">108</text></g>
<g class="la"><text x="272" y="104">-10</text><text x="272" y="190">-12</text><text x="272" y="276">-14</text><text x="272" y="362">-16</text><text x="272" y="448">-18</text><text x="272" y="534">-20</text></g>
<text class="pl" x="444" y="530">(i)</text>
</g>
</g>
</svg>
</body></html>
